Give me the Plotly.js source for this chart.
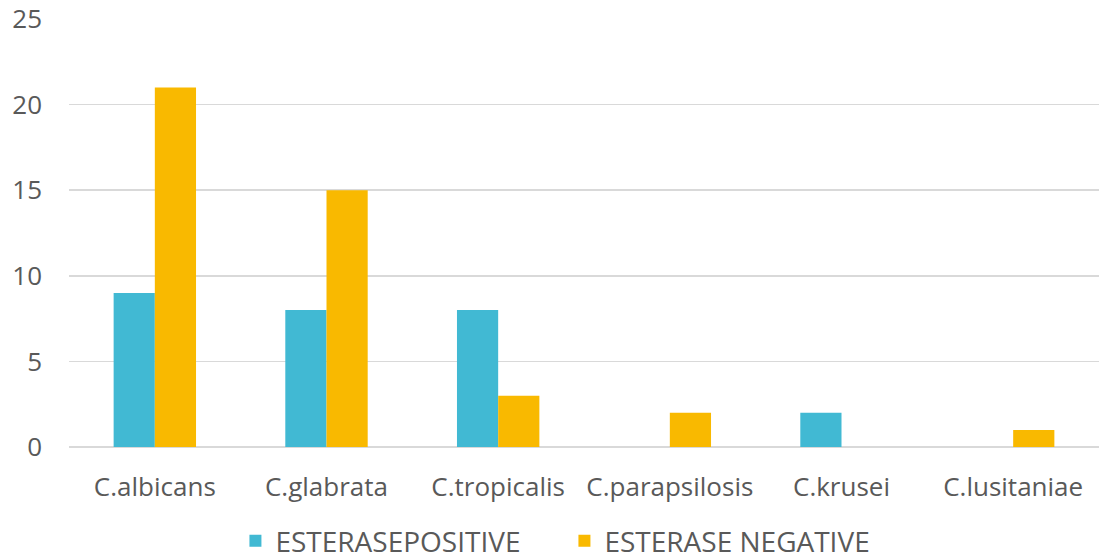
<!DOCTYPE html>
<html>
<head>
<meta charset="utf-8">
<script src="https://cdn.plot.ly/plotly-3.0.1.min.js"></script>
<style>html,body{margin:0;padding:0;background:#fff;}#chart{width:1106px;height:560px;}</style>
</head>
<body>
<div id="chart"></div>
<script>
// Candida species and esterase test counts
const species = ["C.albicans", "C.glabrata", "C.tropicalis", "C.parapsilosis", "C.krusei", "C.lusitaniae"];
const esterasePositive = [9, 8, 8, 0, 2, 0];
const esteraseNegative = [21, 15, 3, 2, 0, 1];
const yTicks = [0, 5, 10, 15, 20, 25];

const traces = [
  {
    type: "bar", name: "ESTERASEPOSITIVE", x: species, y: esterasePositive,
    marker: {color: "#41B9D3"}, hoverinfo: "x+y"
  },
  {
    type: "bar", name: "ESTERASE NEGATIVE", x: species, y: esteraseNegative,
    marker: {color: "#F9B900"}, hoverinfo: "x+y"
  }
];

const layout = {
  width: 1106, height: 560,
  margin: {l: 69, r: 7, t: 19, b: 113, autoexpand: false},
  paper_bgcolor: "#fff", plot_bgcolor: "#fff",
  barmode: "group", bargap: 0.52, bargroupgap: 0,
  font: {family: "'Open Sans', sans-serif", color: "#595959", size: 26},
  xaxis: {
    type: "category", showgrid: false, zeroline: false,
    showline: false, ticks: "", ticklabelstandoff: 22,
    tickfont: {size: 26, color: "#595959"}
  },
  yaxis: {
    range: [0, 25], tickvals: yTicks, ticktext: yTicks.map(String),
    showgrid: true, gridcolor: "#D9D9D9", gridwidth: 1.5,
    zeroline: true, zerolinecolor: "#D9D9D9", zerolinewidth: 1.5,
    showline: false, ticks: "", ticklabelstandoff: 26,
    tickfont: {size: 26, color: "#595959"}
  },
  showlegend: true,
  legend: {
    orientation: "h", x: 0.481, xanchor: "center",
    yref: "container", y: 0.034, yanchor: "middle",
    font: {size: 28, color: "#595959"}, itemwidth: 30,
    entrywidth: 284, entrywidthmode: "pixels", tracegroupgap: 0
  }
};

Plotly.newPlot("chart", traces, layout, {displayModeBar: false, staticPlot: true});
</script>
</body>
</html>
